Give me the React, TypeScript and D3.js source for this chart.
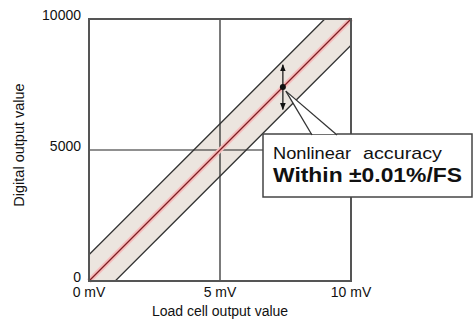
import React from "react";
import * as d3 from "d3";

const xTicks = [0, 5, 10];
const xTickLabels = ["0 mV", "5 mV", "10 mV"];
const yTicks = [0, 5000, 10000];
const yTickLabels = ["0", "5000", "10000"];
const idealLine: [number, number][] = [[0, 0], [10, 10000]];
const upperEdge: [number, number][] = [[0, 1000], [9, 10000]];
const lowerEdge: [number, number][] = [[1, 0], [10, 9000]];
const bandPolygon: [number, number][] = [[0, 0], [1, 0], [10, 9000], [10, 10000], [9, 10000], [0, 1000]];
const markerPoint: [number, number] = [7.4, 7400];
const arrowRange: [number, number] = [8250, 6550];
const xTitle = "Load cell output value";
const yTitle = "Digital output value";
const noteLine1a = "Nonlinear";
const noteLine1b = "accuracy";
const noteLine2 = "Within ±0.01%/FS";

export default function App() {
  const W = 476, H = 321;
  const x = d3.scaleLinear().domain([0, 10]).range([89, 351]);
  const y = d3.scaleLinear().domain([0, 10000]).range([281, 19]);
  const line = d3.line<[number, number]>().x(d => x(d[0])).y(d => y(d[1]));
  const font = "'Liberation Sans', Arial, Helvetica, sans-serif";

  const mx = x(markerPoint[0]);
  const my = y(markerPoint[1]);
  const ay1 = y(arrowRange[0]);
  const ay2 = y(arrowRange[1]);

  const box = { x: 263, y: 134, w: 209, h: 63 };
  const apex = { x: mx + 3, y: my + 4 };
  const wedgeL = 312, wedgeR = 337;

  return (
    <svg width={W} height={H} style={{ position: "absolute", left: 0, top: 0, background: "#fff" }} fontFamily={font}>
      <defs>
        <marker id="ah" viewBox="0 0 10 10" refX="9" refY="5" markerWidth="6" markerHeight="6" orient="auto-start-reverse">
          <path d="M0,1 L10,5 L0,9 z" fill="#111" />
        </marker>
      </defs>
      {/* band */}
      <path d={line(bandPolygon)! + "Z"} fill="#ece5df" stroke="none" />
      {/* grid mid lines */}
      <line x1={x(5)} x2={x(5)} y1={y(0)} y2={y(10000)} stroke="#222" strokeWidth={1.2} />
      <line x1={x(0)} x2={x(10)} y1={y(5000)} y2={y(5000)} stroke="#222" strokeWidth={1.2} />
      {/* ideal line */}
      <path d={line(idealLine)!} stroke="#f6bcbc" strokeWidth={5} fill="none" />
      <path d={line(idealLine)!} stroke="#7d1f22" strokeWidth={1.3} fill="none" />
      {/* band edges */}
      <path d={line(upperEdge)!} stroke="#333" strokeWidth={1.3} fill="none" />
      <path d={line(lowerEdge)!} stroke="#333" strokeWidth={1.3} fill="none" />
      {/* frame */}
      <rect x={x(0)} y={y(10000)} width={x(10) - x(0)} height={y(0) - y(10000)} fill="none" stroke="#555" strokeWidth={2} />
      {/* tick labels */}
      {yTicks.map((v, i) => (
        <text key={"y" + i} x={81} y={y(v) + 1} textAnchor="end" fontSize={14} fill="#111">{yTickLabels[i]}</text>
      ))}
      {xTicks.map((v, i) => (
        <text key={"x" + i} x={x(v)} y={297} textAnchor="middle" fontSize={14} fill="#111">{xTickLabels[i]}</text>
      ))}
      <text x={220} y={316} textAnchor="middle" fontSize={14} fill="#111">{xTitle}</text>
      <text transform="translate(24,145) rotate(-90)" textAnchor="middle" fontSize={14.5} fill="#111">{yTitle}</text>
      {/* arrow */}
      <line x1={mx} x2={mx} y1={my} y2={ay1} stroke="#111" strokeWidth={1.2} markerEnd="url(#ah)" />
      <line x1={mx} x2={mx} y1={my} y2={ay2} stroke="#111" strokeWidth={1.2} markerEnd="url(#ah)" />
      {/* callout box */}
      <rect x={box.x} y={box.y} width={box.w} height={box.h} fill="#fff" stroke="#444" strokeWidth={1.5} />
      <path d={`M${wedgeL},${box.y} L${apex.x},${apex.y} L${wedgeR},${box.y} Z`} fill="#fff" stroke="none" />
      <line x1={wedgeL} y1={box.y + 1} x2={apex.x} y2={apex.y} stroke="#333" strokeWidth={1.3} />
      <line x1={wedgeR} y1={box.y + 1} x2={apex.x} y2={apex.y} stroke="#333" strokeWidth={1.3} />
      <circle cx={mx} cy={my} r={3} fill="#111" />
      <text x={273} y={159} fontSize={17} fill="#111" textLength={78} lengthAdjust="spacingAndGlyphs">{noteLine1a}</text>
      <text x={363} y={159} fontSize={17} fill="#111" textLength={79} lengthAdjust="spacingAndGlyphs">{noteLine1b}</text>
      <text x={273} y={182} fontSize={21} fontWeight="bold" fill="#111" textLength={189} lengthAdjust="spacingAndGlyphs">{noteLine2}</text>
    </svg>
  );
}
